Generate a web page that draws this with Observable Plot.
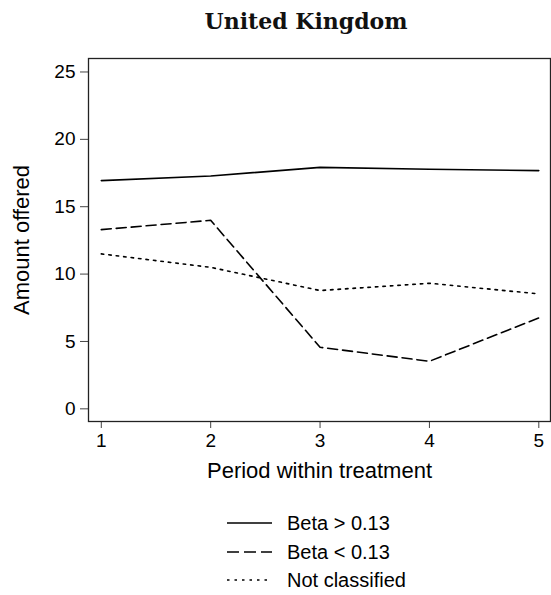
<!DOCTYPE html>
<html>
<head>
<meta charset="utf-8">
<script src="https://cdn.jsdelivr.net/npm/d3@7"></script>
<script src="https://cdn.jsdelivr.net/npm/@observablehq/plot@0.6"></script>
<style>
  body { margin: 0; background: #fff; }
  #fig { position: relative; width: 551px; height: 595px; font-family: "Liberation Sans", Arial, sans-serif; color: #000; }
  #title { position: absolute; left: 61px; width: 490px; top: 8px; text-align: center; font: bold 22px "DejaVu Serif", serif; color: #111; }
  #chart { position: absolute; left: 0; top: 40px; }
  .row { position: absolute; left: 227px; height: 28px; display: flex; align-items: center; font-size: 20px; white-space: nowrap; }
  .row svg { margin-right: 15px; }
</style>
</head>
<body>
<div id="fig">
  <div id="title">United Kingdom</div>
  <div id="chart"></div>
  <div id="legend"></div>
</div>
<script>
// Mean amount offered per period, by beta classification
const periods = [1, 2, 3, 4, 5];
const betaHigh = [16.94, 17.28, 17.92, 17.78, 17.68];
const betaLow = [13.30, 13.99, 4.57, 3.53, 6.75];
const notClassified = [11.50, 10.50, 8.78, 9.32, 8.53];
const seriesNames = ["Beta > 0.13", "Beta < 0.13", "Not classified"];
const yTicks = [0, 5, 10, 15, 20, 25];

const seriesValues = [betaHigh, betaLow, notClassified];
const dashStyle = { "Beta > 0.13": null, "Beta < 0.13": "10,5", "Not classified": "2.5,5" };
const legendDash = { "Beta > 0.13": null, "Beta < 0.13": "12,5", "Not classified": "2.5,5" };

const rows = seriesNames.flatMap((s, i) =>
  periods.map((p, j) => ({ period: p, value: seriesValues[i][j], series: s }))
);

const chart = Plot.plot({
  width: 551,
  height: 450,
  marginTop: 18,
  marginBottom: 69,
  marginLeft: 88,
  marginRight: 1,
  style: { fontFamily: "'Liberation Sans', Arial, sans-serif", fontSize: "19px", color: "#000", background: "#fff" },
  x: { domain: [0.883, 5.107] },
  y: { domain: [-0.94, 26] },
  marks: [
    Plot.axisX({
      ticks: periods, tickFormat: "d", tickSize: 7, tickPadding: 5, stroke: "#444",
      label: "Period within treatment", labelAnchor: "center", labelArrow: "none", labelOffset: 56
    }),
    Plot.axisY({
      ticks: yTicks, tickSize: 8, tickPadding: 5, stroke: "#444",
      label: "Amount offered", labelAnchor: "center", labelArrow: "none", labelOffset: 75
    }),
    ...seriesNames.map(s =>
      Plot.line(rows.filter(d => d.series === s), {
        x: "period", y: "value", stroke: "#000", strokeWidth: 1.6,
        strokeDasharray: dashStyle[s]
      })
    ),
    Plot.frame({ stroke: "#222", strokeWidth: 1.3 })
  ]
});

// axis titles are set a little larger than the tick labels
chart.querySelectorAll('[aria-label="x-axis label"] text, [aria-label="y-axis label"] text')
  .forEach(t => t.setAttribute("font-size", "22px"));
document.getElementById("chart").append(chart);

// legend below the chart
const legend = document.getElementById("legend");
const rowTops = [509, 538, 566];
seriesNames.forEach((s, i) => {
  const row = document.createElement("div");
  row.className = "row";
  row.style.top = rowTops[i] + "px";
  const dash = legendDash[s] ? ` stroke-dasharray="${legendDash[s]}"` : "";
  row.innerHTML = `<svg width="45" height="4"><line x1="0" y1="2" x2="45" y2="2" stroke="#000" stroke-width="1.6"${dash}/></svg><span>${s}</span>`;
  legend.append(row);
});
</script>
</body>
</html>
